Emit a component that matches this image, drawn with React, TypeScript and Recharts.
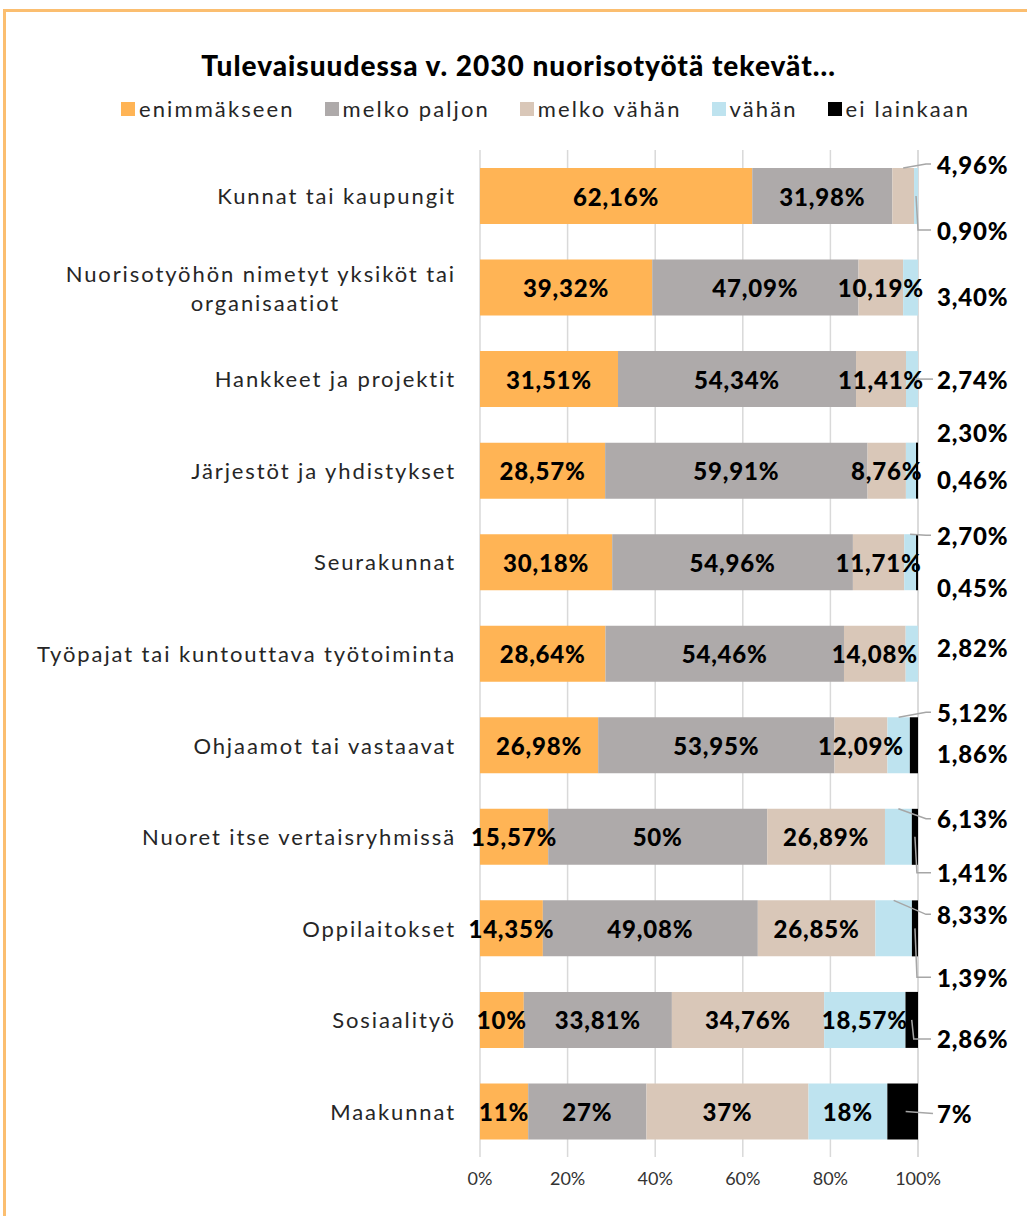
import { BarChart, Bar, XAxis, YAxis, CartesianGrid, LabelList } from "recharts";

const categories = [
  "Kunnat tai kaupungit",
  "Nuorisotyöhön nimetyt yksiköt tai organisaatiot",
  "Hankkeet ja projektit",
  "Järjestöt ja yhdistykset",
  "Seurakunnat",
  "Työpajat tai kuntouttava työtoiminta",
  "Ohjaamot tai vastaavat",
  "Nuoret itse vertaisryhmissä",
  "Oppilaitokset",
  "Sosiaalityö",
  "Maakunnat",
];
const enimmakseen = [62.16, 39.32, 31.51, 28.57, 30.18, 28.64, 26.98, 15.57, 14.35, 10, 11];
const melkoPaljon = [31.98, 47.09, 54.34, 59.91, 54.96, 54.46, 53.95, 50, 49.08, 33.81, 27];
const melkoVahan = [4.96, 10.19, 11.41, 8.76, 11.71, 14.08, 12.09, 26.89, 26.85, 34.76, 37];
const vahan = [0.9, 3.4, 2.74, 2.3, 2.7, 2.82, 5.12, 6.13, 8.33, 18.57, 18];
const eiLainkaan = [0, 0, 0, 0.46, 0.45, 0, 1.86, 1.41, 1.39, 2.86, 7];
const xTicks = [0, 20, 40, 60, 80, 100];

const SERIES = [
  { key: "enimmakseen", name: "enimmäkseen", color: "#FFB455", outsideBelow: 0 },
  { key: "melkoPaljon", name: "melko paljon", color: "#AEAAAA", outsideBelow: 0 },
  { key: "melkoVahan", name: "melko vähän", color: "#D9C7B8", outsideBelow: 6 },
  { key: "vahan", name: "vähän", color: "#BEE3EF", outsideBelow: 10 },
  { key: "eiLainkaan", name: "ei lainkaan", color: "#000000", outsideBelow: 101 },
];

// hand-placed nudges for the labels that sit right of the bars (like the moved Excel labels)
// per row: [dy, show leader line] for the first and second outside label
const OUTSIDE_NUDGE: [number, boolean][][] = [
  [[-32, true], [34, true]],
  [[9, false]],
  [[0, true]],
  [[-38, false], [9, false]],
  [[-27, true], [25, false]],
  [[-6, false]],
  [[-33, true], [8, false]],
  [[-18, true], [36, true]],
  [[-14, true], [49, true]],
  [[19, true]],
  [[2, true]],
];

const data = categories.map((name, i) => ({
  name,
  enimmakseen: enimmakseen[i],
  melkoPaljon: melkoPaljon[i],
  melkoVahan: melkoVahan[i],
  vahan: vahan[i],
  eiLainkaan: eiLainkaan[i],
}));

// which labels go outside the bar -> their slot index in the row
const outsideSlot: Record<string, number>[] = data.map((row: any) => {
  const res: Record<string, number> = {};
  SERIES.filter((s) => row[s.key] > 0 && row[s.key] < s.outsideBelow).forEach((s, j) => {
    res[s.key] = j;
  });
  return res;
});

const W = 1027;
const H = 1216;
const X_AXIS_H = 59;
const M = { top: 150, right: 109, bottom: 0, left: 0 };
const PLOT_RIGHT = W - M.right;
const BAND = (H - M.top - M.bottom - X_AXIS_H) / categories.length;
const FONT = "Lato, 'Open Sans', sans-serif";

const fmt = (v: number) => (Number.isInteger(v) ? `${v}%` : `${v.toFixed(2).replace(".", ",")}%`);

function makeLabel(key: string) {
  return (props: any) => {
    const value = Number(props.value);
    if (!value) return null;
    const x = Number(props.x);
    const y = Number(props.y);
    const w = Number(props.width);
    const h = Number(props.height);
    const cx = x + w / 2;
    const cy = y + h / 2;
    // zero-size bars are skipped, so find the row from the position
    const row = Math.floor((cy - M.top) / BAND);
    const slot = outsideSlot[row]?.[key];
    const style = { fontFamily: FONT, fontWeight: 900, fontSize: 24, fill: "#000", letterSpacing: 0.8 };
    if (slot === undefined) {
      return (
        <text x={cx} y={cy} textAnchor="middle" dominantBaseline="central" style={style}>
          {fmt(value)}
        </text>
      );
    }
    const [dy, line] = OUTSIDE_NUDGE[row]?.[slot] ?? [0, false];
    const ly = cy + dy;
    let points = "";
    if (line) {
      if (dy < -12) points = `${cx},${y} ${PLOT_RIGHT + 8},${ly} ${PLOT_RIGHT + 13},${ly}`;
      else if (dy > 12) points = `${cx},${cy} ${cx + 2},${ly} ${PLOT_RIGHT + 13},${ly}`;
      else points = `${Math.min(cx + 3, PLOT_RIGHT)},${cy} ${PLOT_RIGHT + 15},${ly}`;
    }
    return (
      <g>
        {points && <polyline points={points} fill="none" stroke="#A6A6A6" strokeWidth={1.5} />}
        <text x={PLOT_RIGHT + 19} y={ly} textAnchor="start" dominantBaseline="central" style={style}>
          {fmt(value)}
        </text>
      </g>
    );
  };
}

function CategoryTick(props: any) {
  const { x, y, payload } = props;
  const label: string = payload.value;
  const style = { fontFamily: FONT, fontSize: 22, fill: "#262626", letterSpacing: 1.9 };
  if (label.length > 40) {
    const words = label.split(" ");
    const line1: string[] = [];
    const line2: string[] = [];
    words.forEach((w) => {
      if (line2.length === 0 && [...line1, w].join(" ").length <= 34) line1.push(w);
      else line2.push(w);
    });
    const l1 = line1.join(" ");
    const mid = x - (l1.length * 11.55) / 2;
    return (
      <g>
        <text x={x} y={y - 14} textAnchor="end" dominantBaseline="central" style={style}>
          {l1}
        </text>
        <text x={mid} y={y + 15} textAnchor="middle" dominantBaseline="central" style={style}>
          {line2.join(" ")}
        </text>
      </g>
    );
  }
  return (
    <text x={x} y={y} textAnchor="end" dominantBaseline="central" style={style}>
      {label}
    </text>
  );
}

function Header() {
  return (
    <>
      <div
        style={{
          position: "absolute",
          top: 48,
          left: 0,
          width: W + 10,
          textAlign: "center",
          fontFamily: FONT,
          fontWeight: 900,
          fontSize: 28,
          letterSpacing: 1,
          color: "#000",
        }}
      >
        Tulevaisuudessa v. 2030 nuorisotyötä tekevät...
      </div>
      <div
        style={{
          position: "absolute",
          top: 95,
          left: 121,
          display: "flex",
          gap: 30,
          fontFamily: FONT,
          fontSize: 22,
          color: "#262626",
          letterSpacing: 2.1,
        }}
      >
        {SERIES.map((s) => (
          <div key={s.key} style={{ display: "flex", alignItems: "center" }}>
            <span style={{ width: 14, height: 14, background: s.color, marginRight: 4, display: "inline-block" }} />
            {s.name}
          </div>
        ))}
      </div>
    </>
  );
}

export default function App() {
  return (
    <div style={{ position: "fixed", left: 0, top: 0, width: W, height: H, overflow: "hidden", background: "#fff" }}>
      <div
        style={{
          position: "absolute",
          left: 3,
          top: 9,
          width: W + 20,
          height: H + 20,
          border: "3px solid #FBBE70",
          boxSizing: "border-box",
        }}
      />
      <Header />
      <div style={{ position: "absolute", left: 0, top: 0 }}>
        <BarChart width={W} height={H} data={data} layout="vertical" margin={M} barSize={56}>
          <CartesianGrid horizontal={false} stroke="#D9D9D9" strokeWidth={1.5} />
          <XAxis
            type="number"
            domain={[0, 100]}
            ticks={xTicks}
            tickFormatter={(v) => `${v}%`}
            axisLine={false}
            tickLine={false}
            height={X_AXIS_H}
            tickMargin={9}
            tick={{ fontFamily: FONT, fontSize: 18, fill: "#333" }}
          />
          <YAxis
            type="category"
            dataKey="name"
            width={480}
            axisLine={false}
            tickLine={false}
            tickSize={0}
            tickMargin={24}
            tick={<CategoryTick />}
          />
          {SERIES.map((s) => (
            <Bar key={s.key} dataKey={s.key} name={s.name} stackId="a" fill={s.color} isAnimationActive={false}>
              <LabelList dataKey={s.key} content={makeLabel(s.key)} />
            </Bar>
          ))}
        </BarChart>
      </div>
    </div>
  );
}
